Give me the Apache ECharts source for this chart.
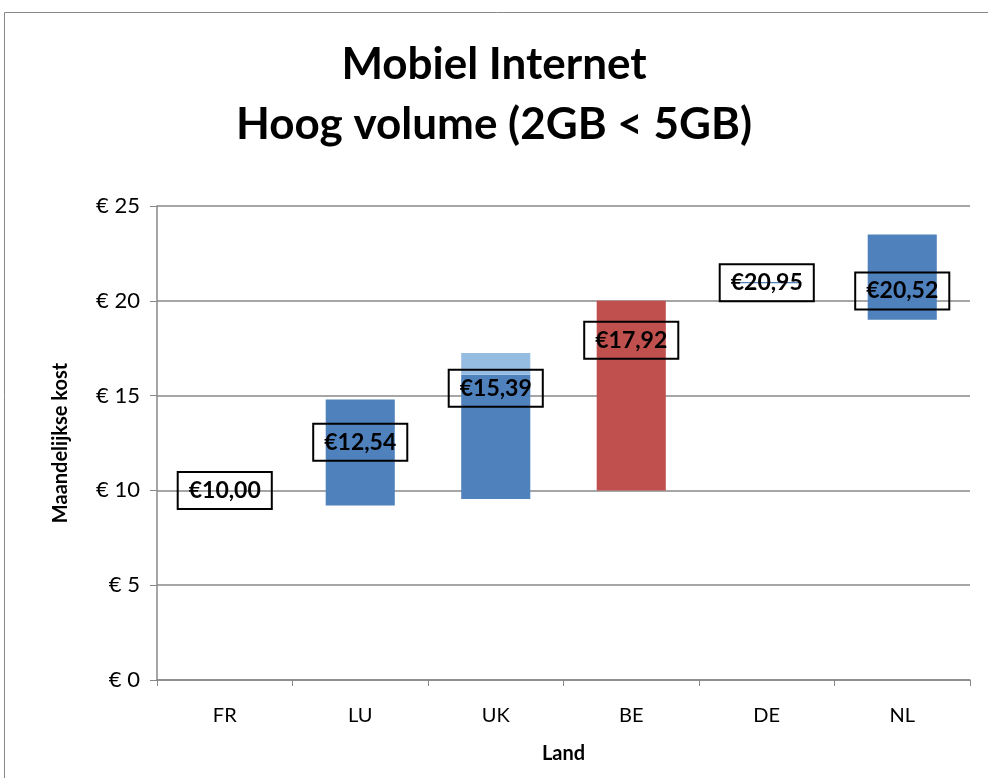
<!DOCTYPE html>
<html><head><meta charset="utf-8">
<script src="https://cdn.jsdelivr.net/npm/echarts@6/dist/echarts.min.js"></script>
<style>html,body{margin:0;padding:0;background:#fff}#c{width:988px;height:778px}</style>
</head><body><div id="c"></div>
<script>
const categories = ['FR','LU','UK','BE','DE','NL'];
const lows = [10, 9.2, 9.55, 10, 20.92, 19.0];
const mainTops = [10, 14.8, 16.1, 20.0, 20.99, 23.5];
const extraTops = [null, null, 17.25, null, null, null];
const averages = [10.00, 12.54, 15.39, 17.92, 20.95, 20.52];
const barColors = ['#4F81BD','#4F81BD','#4F81BD','#C0504D','#4F81BD','#4F81BD'];
const yTicks = [0,5,10,15,20,25];

const FONT = 'Lato';
const chart = echarts.init(document.getElementById('c'), null, {renderer:'canvas'});
const fmt = v => '€' + v.toFixed(2).replace('.', ',');

chart.setOption({
  animation:false,
  backgroundColor:'#fff',
  textStyle:{fontFamily:FONT},
  graphic:[{type:'rect', shape:{x:4.5,y:12.5,width:2000,height:2000}, style:{fill:'none', stroke:'#888', lineWidth:1}, silent:true, z:-1}],
  title:{text:'Mobiel Internet\nHoog volume (2GB < 5GB)', left:'center', top:30,
    textStyle:{fontFamily:FONT, fontSize:44, fontWeight:'bold', color:'#000', lineHeight:60}},
  grid:{left:157, right:18, top:206, bottom:98},
  xAxis:{type:'category', data:categories, name:'Land', nameLocation:'middle', nameGap:64,
    nameTextStyle:{fontFamily:FONT, fontSize:20, fontWeight:'bold', color:'#000'},
    axisLine:{lineStyle:{color:'#888', width:1.5}},
    axisTick:{show:true, length:6, lineStyle:{color:'#888'}},
    axisLabel:{fontFamily:FONT, fontSize:20, color:'#000', margin:26}},
  yAxis:{type:'value', min:0, max:25, interval:5, name:'Maandelijkse kost', nameLocation:'middle', nameGap:86,
    nameTextStyle:{fontFamily:FONT, fontSize:20, fontWeight:'bold', color:'#000'},
    axisLine:{show:true, lineStyle:{color:'#888', width:1.5}},
    axisTick:{show:true, length:7, lineStyle:{color:'#888'}},
    splitLine:{lineStyle:{color:'#888', width:1.5}},
    axisLabel:{fontFamily:FONT, fontSize:22, color:'#000', margin:17,
      formatter: v => yTicks.includes(v) ? '€ ' + v : ''}},
  series:[
    {type:'bar', stack:'s', barWidth:'51%', itemStyle:{color:'transparent'}, data:lows, silent:true},
    {type:'bar', stack:'s',
      data: mainTops.map((t,i)=>({value:+(t-lows[i]).toFixed(3), itemStyle:{color:barColors[i]}}))},
    {type:'bar', stack:'s', itemStyle:{color:'#95BDE2'},
      data: extraTops.map((t,i)=> t==null ? '-' : +(t-mainTops[i]).toFixed(3))},
    {type:'scatter', symbol:'circle', symbolSize:0, z:10, data:averages, itemStyle:{color:'#fff', opacity:1},
      label:{show:true, position:'inside', formatter:p=>fmt(p.value),
        fontFamily:FONT, fontSize:23, fontWeight:'bold', color:'#000',
        textBorderWidth:0, textShadowBlur:0,
        borderColor:'#000', borderWidth:2, padding:[8,11,6,11]}}
  ]
});
</script></body></html>
